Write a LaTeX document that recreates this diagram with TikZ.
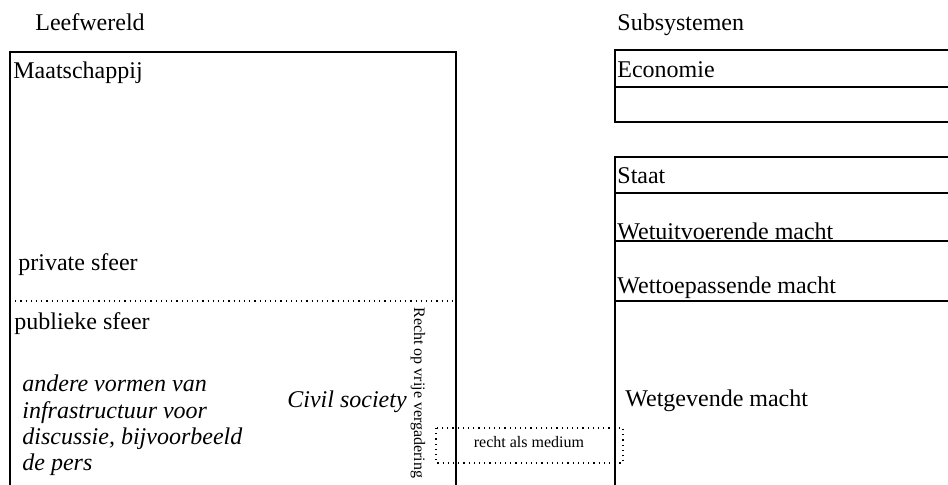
\documentclass[tikz,border=0pt]{standalone}
\usepackage{fontspec}
\setmainfont{Liberation Serif}
\begin{document}
\begin{tikzpicture}[x=0.5pt,y=-0.5pt,
  frame/.style={line width=1pt,black},
  dotline/.style={line width=0.6pt,dotted},
  lbl/.style={anchor=base west,inner sep=0pt,font=\fontsize{12}{14}\selectfont},
  ilbl/.style={lbl,font=\fontsize{12}{14}\selectfont\itshape},
  small/.style={inner sep=0pt,font=\fontsize{8}{10}\selectfont}]
\useasboundingbox (0,0) rectangle (948,485);
\begin{scope}
\clip (0,0) rectangle (948,485);
% Leefwereld: open frame running off the bottom edge
\draw[frame] (10,500) -- (10,52) -- (456,52) -- (456,500);
\draw[dotline] (10,301) -- (456,301);
% Subsystemen: Economie
\draw[frame] (960,50) -- (615,50) -- (615,122) -- (960,122);
\draw[frame] (615,87) -- (960,87);
% Subsystemen: Staat
\draw[frame] (960,157) -- (615,157) -- (615,500);
\draw[frame] (615,193) -- (960,193);
\draw[frame] (615,241) -- (960,241);
\draw[frame] (615,301) -- (960,301);
% law as medium between the two sides
\draw[dotline,line width=0.8pt] (436,428) rectangle (623,463);
\end{scope}
\node[small] (medium) at (529,442) {recht als medium};
\node[small,rotate=-90] (vergadering) at (418,393) {Recht op vrije vergadering};
% headings
\node[lbl] (leef) at (35,31) {Leefwereld};
\node[lbl] (sub) at (617,31) {Subsystemen};
% left side labels
\node[lbl] (maat) at (13,79) {Maatschappij};
\node[lbl] (priv) at (18,271) {private sfeer};
\node[lbl] (publ) at (14,330) {publieke sfeer};
\node[ilbl] (l1) at (22,392) {andere vormen van};
\node[ilbl] (l2) at (22,418.5) {infrastructuur voor};
\node[ilbl] (l3) at (22,445) {discussie, bijvoorbeeld};
\node[ilbl] (l4) at (22,471) {de pers};
\node[ilbl] (civil) at (287,408) {Civil society};
% right side labels
\node[lbl] (eco) at (617,78) {Economie};
\node[lbl] (staat) at (617,184) {Staat};
\node[lbl] (uitv) at (617,240) {Wetuitvoerende macht};
\node[lbl] (toep) at (617,294) {Wettoepassende macht};
\node[lbl] (gev) at (625,407) {Wetgevende macht};
\end{tikzpicture}
\end{document}
